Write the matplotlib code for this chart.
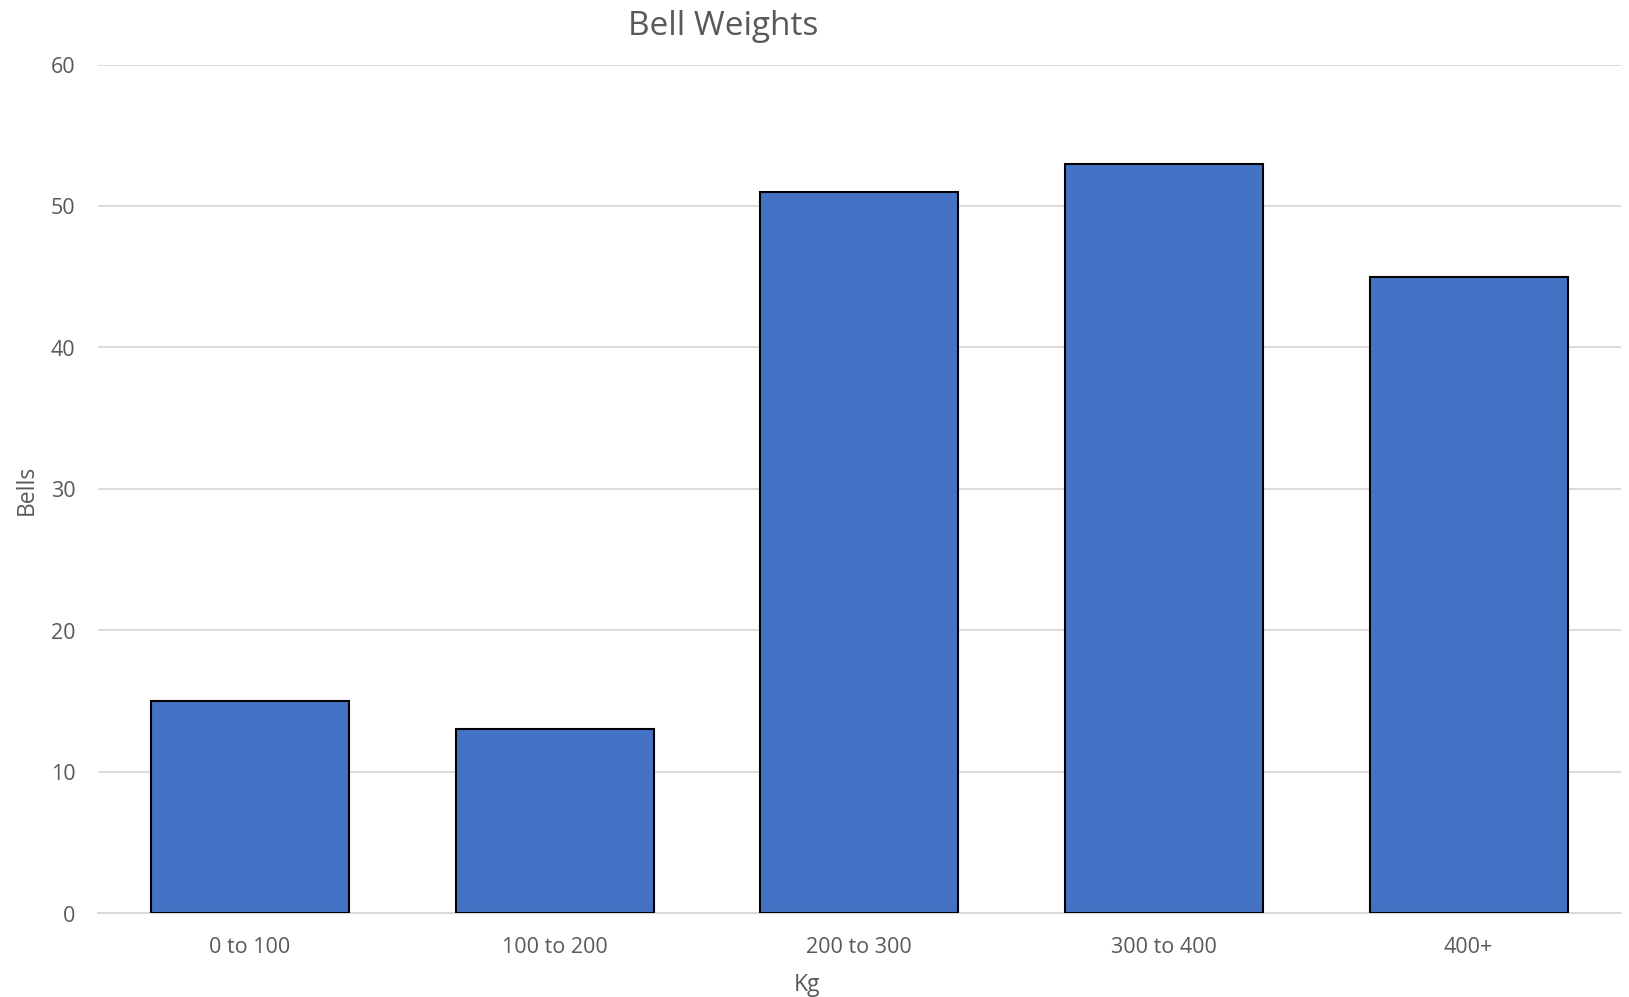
import matplotlib
matplotlib.use("Agg")
import matplotlib.pyplot as plt

categories = ["0 to 100", "100 to 200", "200 to 300", "300 to 400", "400+"]
bells = [15, 13, 51, 53, 45]
yticks = [0, 10, 20, 30, 40, 50, 60]

plt.rcParams['font.family'] = ['Open Sans', 'DejaVu Sans']
text_col = '#595959'

fig = plt.figure(figsize=(16.29, 9.975), dpi=100)
ax = fig.add_axes([97.7/1629, 1 - 913.3/997, (1621 - 97.7)/1629, (913.3 - 65)/997])

x = list(range(len(categories)))
ax.bar(x, bells, width=0.65, color='#4472C4', edgecolor='black', linewidth=1.5, zorder=3)

ax.set_xlim(-0.5, len(categories) - 0.5)
ax.set_ylim(0, 60)
ax.set_yticks(yticks)
ax.set_xticks(x)
ax.set_xticklabels(categories)
ax.yaxis.grid(True, color='#D9D9D9', linewidth=1.3, zorder=0)
ax.set_axisbelow(True)
for s in ['top', 'right', 'left']:
    ax.spines[s].set_visible(False)
ax.spines['bottom'].set_color('#D9D9D9')
ax.spines['bottom'].set_linewidth(1.3)
ax.spines['bottom'].set_zorder(1)
ax.tick_params(axis='both', length=0, labelsize=15.5, labelcolor=text_col)
ax.tick_params(axis='y', pad=16)
ax.tick_params(axis='x', pad=17)

fig.text(723/1629, 1 - 26.5/997, "Bell Weights", ha='center', va='center', fontsize=24, color=text_col)
fig.text(27/1629, 1 - 490/997, "Bells", ha='center', va='center', rotation=90, fontsize=16.5, color=text_col)
fig.text(807/1629, 1 - 985/997, "Kg", ha='center', va='center', fontsize=16.5, color=text_col)

fig.savefig("out.png", dpi=100)
